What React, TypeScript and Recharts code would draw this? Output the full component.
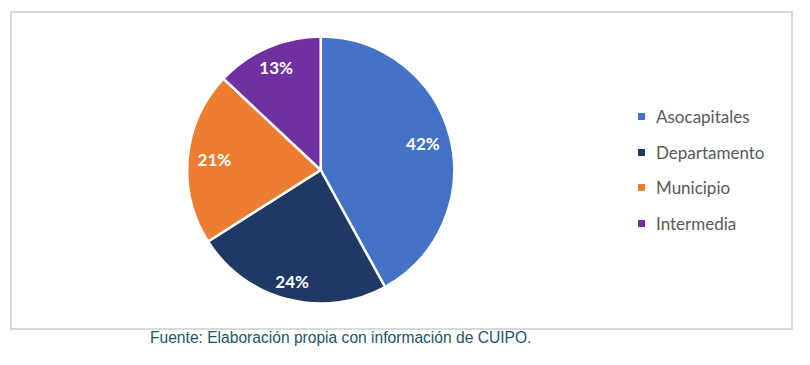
import React from "react";
import { PieChart, Pie, Cell } from "recharts";

const categories = ["Asocapitales", "Departamento", "Municipio", "Intermedia"];
const shares = [42, 24, 21, 13];
const colors = ["#4472C4", "#203864", "#ED7D31", "#7030A0"];
const caption = "Fuente: Elaboración propia con información de CUIPO.";

// label distance from centre, as a fraction of the radius (style only)
const labelRadiusFactor = [0.79, 0.86, 0.8, 0.84];

const data = categories.map((name, i) => ({ name, value: shares[i] }));

const RAD = Math.PI / 180;

const renderLabel = (props: any) => {
  const { cx, cy, midAngle, outerRadius, value, index } = props;
  const r = outerRadius * (labelRadiusFactor[index] ?? 0.82);
  const x = cx + r * Math.cos(-midAngle * RAD);
  const y = cy + r * Math.sin(-midAngle * RAD);
  return (
    <text
      x={x}
      y={y}
      fill="#FFFFFF"
      textAnchor="middle"
      dominantBaseline="central"
      fontFamily="Lato, 'Open Sans', sans-serif"
      fontWeight="bold"
      fontSize={17}
    >
      {`${value}%`}
    </text>
  );
};

export default function App() {
  return (
    <div
      style={{
        position: "absolute",
        left: 0,
        top: 0,
        width: 810,
        height: 365,
        background: "#FFFFFF",
      }}
    >
      <div
        style={{
          position: "absolute",
          left: 10,
          top: 11,
          width: 779,
          height: 315,
          border: "2px solid #D9D9D9",
        }}
      />
      <div style={{ position: "absolute", left: 0, top: 0 }}>
        <PieChart width={810} height={330} margin={{ top: 0, right: 0, bottom: 0, left: 0 }}>
          <Pie
            data={data}
            dataKey="value"
            nameKey="name"
            cx={320.7}
            cy={170}
            outerRadius={133.5}
            startAngle={90}
            endAngle={-270}
            stroke="#FFFFFF"
            strokeWidth={2.5}
            label={renderLabel}
            labelLine={false}
            isAnimationActive={false}
          >
            {data.map((d, i) => (
              <Cell key={d.name} fill={colors[i]} />
            ))}
          </Pie>
        </PieChart>
      </div>
      <div
        style={{
          position: "absolute",
          left: 638,
          top: 99,
          width: 160,
          fontFamily: "Lato, 'Open Sans', sans-serif",
        }}
      >
        {categories.map((name, i) => (
          <div
            key={name}
            style={{
              display: "flex",
              alignItems: "center",
              height: 35.5,
              fontSize: 17,
              color: "#595959",
            }}
          >
            <span
              style={{
                display: "inline-block",
                width: 7,
                height: 7,
                background: colors[i],
                marginRight: 11,
              }}
            />
            <span>{name}</span>
          </div>
        ))}
      </div>
      <div
        style={{
          position: "absolute",
          left: 150,
          top: 329,
          fontFamily: "'Liberation Sans', Arial, sans-serif",
          fontSize: 15.6,
          color: "#1F5468",
          whiteSpace: "nowrap",
        }}
      >
        {caption}
      </div>
    </div>
  );
}
